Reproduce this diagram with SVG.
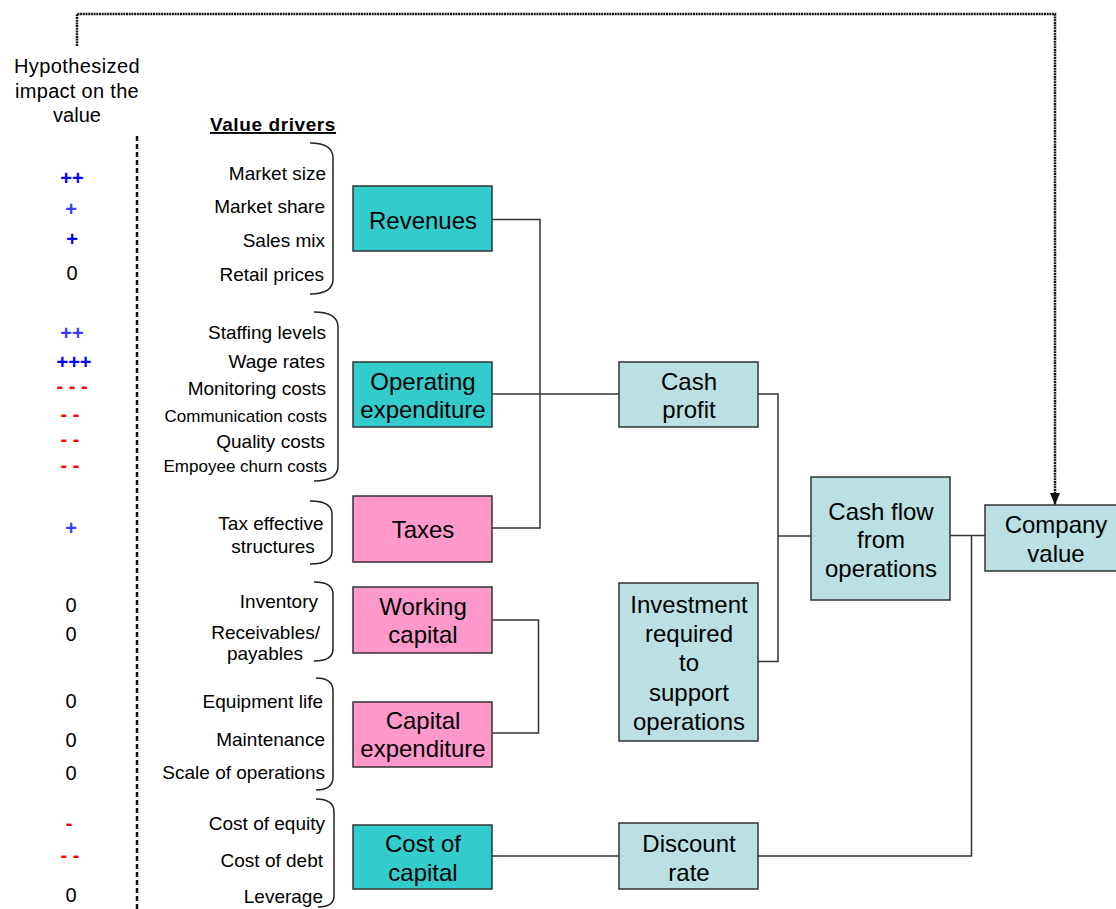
<svg xmlns="http://www.w3.org/2000/svg" width="1116" height="909" viewBox="0 0 1116 909">
  <defs>
    <marker id="arrowHead" markerWidth="12" markerHeight="12" refX="12" refY="6" orient="auto" markerUnits="userSpaceOnUse" viewBox="0 0 12 12">
      <path d="M0,1 L12,6 L0,11 Z" fill="#111"/>
    </marker>
  </defs>
  <style>
    text { font-family: "Liberation Sans", Arial, Helvetica, sans-serif; fill: #000; }
    .node rect { stroke: #333; stroke-width: 1.5; }
    .teal { fill: #33CCCC; }
    .pink { fill: #FF99CC; }
    .pale { fill: #BAE0E3; }
    .lbl { font-size: 24px; text-anchor: middle; }
    .drv { font-size: 19px; text-anchor: end; }
    .drv-s { font-size: 17px; text-anchor: end; }
    .drv-c { font-size: 19px; text-anchor: middle; }
    .sym { font-size: 20px; font-weight: bold; text-anchor: middle; }
    .plus { fill: #0000FF; }
    .plus-l { fill: #3C3CFF; }
    .minus { fill: #FF0000; }
    .zero { font-size: 20px; text-anchor: middle; }
    .conn { fill: none; stroke: #333; stroke-width: 1.5; }
    .brace { fill: none; stroke: #222; stroke-width: 1.5; }
    .feedback { fill: none; stroke: #1a1a1a; stroke-width: 2.5; stroke-dasharray: 2 0.7; }
  </style>

  <rect width="1116" height="909" fill="#fff"/>

  <!-- heading column -->
  <g id="impact-heading">
    <text x="77" y="73" style="font-size:20px;text-anchor:middle;letter-spacing:0.4px">Hypothesized</text>
    <text x="77" y="98" style="font-size:20px;text-anchor:middle;letter-spacing:0.3px">impact on the</text>
    <text x="77" y="122" style="font-size:20px;text-anchor:middle">value</text>
  </g>
  <line id="divider" x1="137" y1="136" x2="137" y2="909" stroke="#111" stroke-width="2.5" stroke-dasharray="5 3"/>

  <g id="drivers-heading">
    <text x="273" y="131" style="font-size:19px;font-weight:bold;text-anchor:middle;letter-spacing:0.6px;text-decoration:underline">Value drivers</text>
  </g>

  <!-- impact markers -->
  <g id="impact-markers">
    <text class="sym plus" x="72" y="185">++</text>
    <text class="sym plus-l" x="71" y="216">+</text>
    <text class="sym plus" x="72" y="246">+</text>
    <text class="zero" x="72" y="280">0</text>
    <text class="sym plus-l" x="72" y="340">++</text>
    <text class="sym plus" x="74" y="369">+++</text>
    <text class="sym minus" x="72" y="393">- - -</text>
    <text class="sym minus" x="70" y="421">- -</text>
    <text class="sym minus" x="70" y="446">- -</text>
    <text class="sym minus" x="70" y="472">- -</text>
    <text class="sym plus-l" x="71" y="535">+</text>
    <text class="zero" x="71" y="612">0</text>
    <text class="zero" x="71" y="641">0</text>
    <text class="zero" x="71" y="708">0</text>
    <text class="zero" x="71" y="747">0</text>
    <text class="zero" x="71" y="780">0</text>
    <text class="sym minus" x="69" y="830">-</text>
    <text class="sym minus" x="70" y="862">- -</text>
    <text class="zero" x="71" y="902">0</text>
  </g>

  <!-- value driver labels -->
  <g id="driver-labels">
    <text class="drv" x="326" y="180">Market size</text>
    <text class="drv" x="325" y="213">Market share</text>
    <text class="drv" x="325" y="247">Sales mix</text>
    <text class="drv" x="324" y="281">Retail prices</text>

    <text class="drv" x="326" y="339">Staffing levels</text>
    <text class="drv" x="325" y="368">Wage rates</text>
    <text class="drv" x="326" y="395">Monitoring costs</text>
    <text class="drv-s" x="327" y="422">Communication costs</text>
    <text class="drv" x="325" y="448">Quality costs</text>
    <text class="drv-s" x="327" y="472">Empoyee churn costs</text>

    <text class="drv-c" x="271" y="530">Tax effective</text>
    <text class="drv-c" x="273" y="553">structures</text>

    <text class="drv" x="318" y="608">Inventory</text>
    <text class="drv" x="320" y="639">Receivables/</text>
    <text class="drv" x="303" y="660">payables</text>

    <text class="drv" x="323" y="708">Equipment life</text>
    <text class="drv" x="325" y="746">Maintenance</text>
    <text class="drv" x="325" y="779">Scale of operations</text>

    <text class="drv" x="325" y="830">Cost of equity</text>
    <text class="drv" x="323" y="867">Cost of debt</text>
    <text class="drv" x="323" y="903">Leverage</text>
  </g>

  <!-- grouping braces -->
  <g id="braces">
    <path class="brace" d="M310,143 Q333,143 333,158 L333,279 Q333,294 310,294"/>
    <path class="brace" d="M314,312 Q338,312 338,327 L338,466 Q338,481 314,481"/>
    <path class="brace" d="M310,501 Q332,501 332,514 L332,551 Q332,564 310,564"/>
    <path class="brace" d="M314,582 Q333,582 333,594 L333,649 Q333,661 314,661"/>
    <path class="brace" d="M316,678 Q333,678 333,691 L333,777 Q333,790 316,790"/>
    <path class="brace" d="M316,799 Q334,799 334,812 L334,896 Q334,907 318,907"/>
  </g>

  <!-- connectors -->
  <g id="connectors">
    <path class="conn" d="M492,219.5 H540 V528 H492"/>
    <path class="conn" d="M492,394 H619"/>
    <path class="conn" d="M758,394 H778 V661.5 H758"/>
    <path class="conn" d="M778,536 H811"/>
    <path class="conn" d="M492,620 H538.5 V733 H492"/>
    <path class="conn" d="M492,856 H619"/>
    <path class="conn" d="M758,856 H971.5 V535.5"/>
    <path class="conn" d="M950,535.5 H985"/>
    <path class="feedback" d="M77,46 V14 H1055 V505" marker-end="url(#arrowHead)"/>
  </g>

  <!-- nodes -->
  <g id="revenues" class="node">
    <rect class="teal" x="353" y="186" width="139" height="65"/>
    <text class="lbl" x="423" y="229">Revenues</text>
  </g>
  <g id="operating-expenditure" class="node">
    <rect class="teal" x="353" y="362" width="139" height="65"/>
    <text class="lbl" x="423" y="390">Operating</text>
    <text class="lbl" x="423" y="418">expenditure</text>
  </g>
  <g id="taxes" class="node">
    <rect class="pink" x="353" y="496" width="139" height="66"/>
    <text class="lbl" x="423" y="538">Taxes</text>
  </g>
  <g id="working-capital" class="node">
    <rect class="pink" x="353" y="587" width="139" height="66"/>
    <text class="lbl" x="423" y="615">Working</text>
    <text class="lbl" x="423" y="643">capital</text>
  </g>
  <g id="capital-expenditure" class="node">
    <rect class="pink" x="353" y="702" width="139" height="65"/>
    <text class="lbl" x="423" y="729">Capital</text>
    <text class="lbl" x="423" y="757">expenditure</text>
  </g>
  <g id="cost-of-capital" class="node">
    <rect class="teal" x="353" y="825" width="139" height="64"/>
    <text class="lbl" x="423" y="852">Cost of</text>
    <text class="lbl" x="423" y="881">capital</text>
  </g>
  <g id="cash-profit" class="node">
    <rect class="pale" x="619" y="362" width="139" height="65"/>
    <text class="lbl" x="689" y="390">Cash</text>
    <text class="lbl" x="689" y="418">profit</text>
  </g>
  <g id="investment" class="node">
    <rect class="pale" x="619" y="583" width="139" height="158"/>
    <text class="lbl" x="689" y="613">Investment</text>
    <text class="lbl" x="689" y="642">required</text>
    <text class="lbl" x="689" y="671">to</text>
    <text class="lbl" x="689" y="701">support</text>
    <text class="lbl" x="689" y="730">operations</text>
  </g>
  <g id="discount-rate" class="node">
    <rect class="pale" x="619" y="823" width="139" height="66"/>
    <text class="lbl" x="689" y="852">Discount</text>
    <text class="lbl" x="689" y="881">rate</text>
  </g>
  <g id="cash-flow" class="node">
    <rect class="pale" x="811" y="477" width="139" height="123"/>
    <text class="lbl" x="881" y="520">Cash flow</text>
    <text class="lbl" x="881" y="548">from</text>
    <text class="lbl" x="881" y="577">operations</text>
  </g>
  <g id="company-value" class="node">
    <rect class="pale" x="985" y="505" width="140" height="66"/>
    <text class="lbl" x="1056" y="533">Company</text>
    <text class="lbl" x="1056" y="562">value</text>
  </g>
</svg>
